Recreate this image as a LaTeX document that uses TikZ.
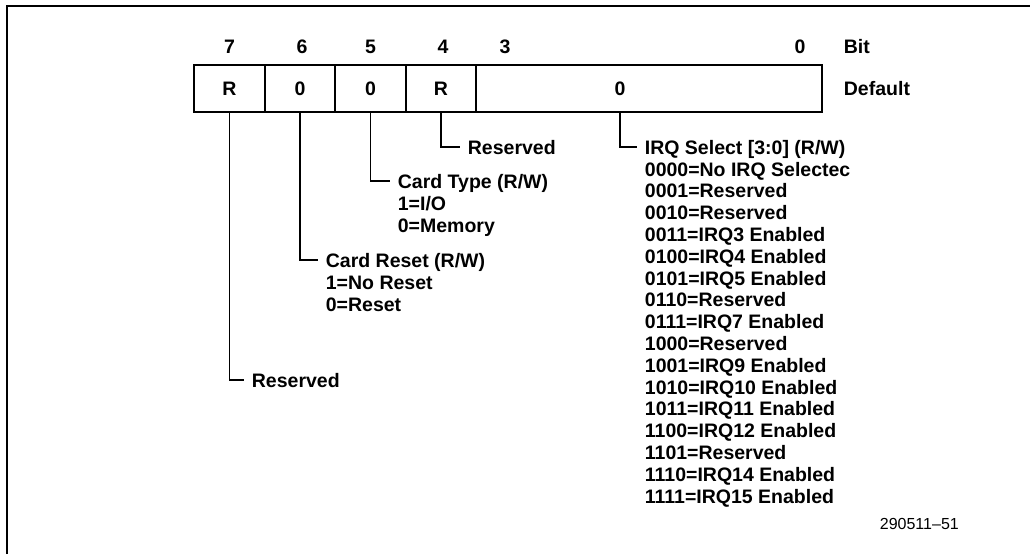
\documentclass[tikz,border=0pt]{standalone}
\usepackage{fontspec}
\setmainfont{Liberation Sans}
\begin{document}
\begin{tikzpicture}[x=1pt,y=-1pt,line width=1.8pt,
  txt/.style={font=\bfseries\fontsize{19.5}{21.8}\selectfont, inner sep=0pt,
    text height=14pt, text depth=0pt},
  lbl/.style={txt, anchor=west, inner xsep=7pt, inner ysep=0pt},
  cell/.style={draw, line width=1.8pt, minimum height=47pt, inner sep=0pt,
    font=\bfseries\fontsize{19.5}{21.8}\selectfont},
  conn/.style={draw, line width=1.8pt}]
\useasboundingbox (0,0) rectangle (1030,554);
% frame
\draw[line width=2pt] (7,554) -- (7,6) -- (1030,6);
% bit numbers
\node[txt] (b7) at (229.5,46) {7};
\node[txt] (b6) at (302,46) {6};
\node[txt] (b5) at (370.5,46) {5};
\node[txt] (b4) at (443,46) {4};
\node[txt] (b3) at (505,46) {3};
\node[txt] (b0) at (800,46) {0};
\node[txt, anchor=west] (bit) at (843,46) {Bit};
% register cells
\node[cell, minimum width=71pt] (c7) at (229.5,88.5) {R};
\node[cell, minimum width=70pt] (c6) at (300,88.5) {0};
\node[cell, minimum width=71pt] (c5) at (370.5,88.5) {0};
\node[cell, minimum width=70pt] (c4) at (441,88.5) {R};
\node[cell, minimum width=346pt] (c30) at (649,88.5) {};
\node[txt] (v0) at (620,88.5) {0};
\node[txt, anchor=west] (def) at (843,88.5) {Default};
% labels
\node[lbl] (r7) at (244,380) {Reserved};
\node[lbl] (cr) at (318,260) {Card Reset (R/W)};
\node[lbl] (cr1) at (318,282) {1=No Reset};
\node[lbl] (cr0) at (318,304) {0=Reset};
\node[lbl] (ct) at (390,181) {Card Type (R/W)};
\node[lbl] (ct1) at (390,203) {1=I/O};
\node[lbl] (ct0) at (390,225) {0=Memory};
\node[lbl] (r4) at (460,147) {Reserved};
\node[lbl] (irq) at (637,147) {IRQ Select [3:0] (R/W)};
\foreach \t [count=\i from 0] in {0000=No IRQ Selectec,0001=Reserved,0010=Reserved,0011=IRQ3 Enabled,0100=IRQ4 Enabled,0101=IRQ5 Enabled,0110=Reserved,0111=IRQ7 Enabled,1000=Reserved,1001=IRQ9 Enabled,1010=IRQ10 Enabled,1011=IRQ11 Enabled,1100=IRQ12 Enabled,1101=Reserved,1110=IRQ14 Enabled,1111=IRQ15 Enabled}
  \node[lbl] (irq\i) at (637,169+21.8*\i) {\t};
% connectors
\draw[conn] (c7.south) |- (r7.west);
\draw[conn] (c6.south) |- (cr.west);
\draw[conn] (c5.south) |- (ct.west);
\draw[conn] (c4.south) |- (r4.west);
\draw[conn] (v0 |- c30.south) |- (irq.west);
% figure number
\node[font=\fontsize{16}{18}\selectfont, inner sep=0pt, anchor=west] (fig) at (879,524) {290511\textendash 51};
\end{tikzpicture}
\end{document}
